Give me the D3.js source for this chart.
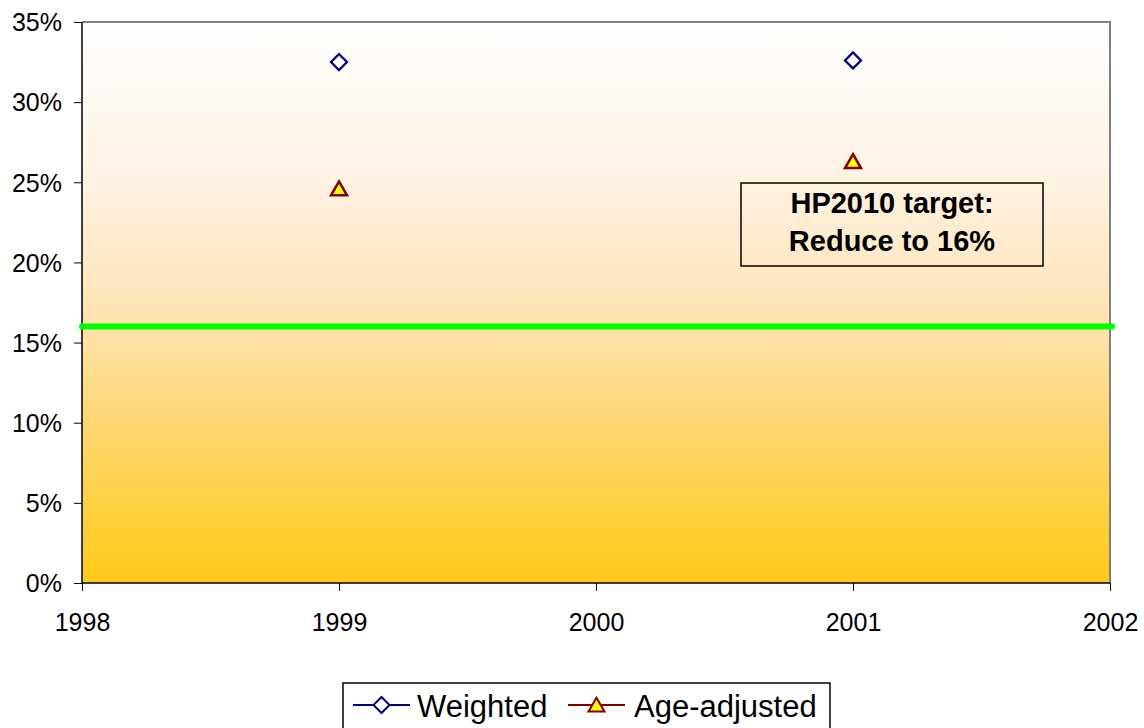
<!DOCTYPE html>
<html><head><meta charset="utf-8">
<script src="https://cdn.jsdelivr.net/npm/d3@7"></script>
<style>body{margin:0;background:#fff;}svg{display:block;font-family:"Liberation Sans",Arial,sans-serif;}</style>
</head><body>
<svg id="c" width="1144" height="728"></svg>
<script>
const years = [1999, 2001];
const weighted = [0.325, 0.326];
const ageAdjusted = [0.246, 0.263];
const target = 0.16;
const xTicks = [1998, 1999, 2000, 2001, 2002];
const yTicks = [0, 0.05, 0.10, 0.15, 0.20, 0.25, 0.30, 0.35];
const seriesNames = ["Weighted", "Age-adjusted"];
const annotation = ["HP2010 target:", "Reduce to 16%"];

const svg = d3.select("#c");
const L = 82, R = 1110, T = 22, B = 583;
const x = d3.scaleLinear().domain([1998, 2002]).range([L, R]);
const y = d3.scaleLinear().domain([0, 0.35]).range([B, T]);

const defs = svg.append("defs");
const g = defs.append("linearGradient").attr("id","bg").attr("x1",0).attr("y1",0).attr("x2",0).attr("y2",1);
[[0,"#FFFFFF"],[0.25,"#FEF4E7"],[0.48,"#FEE6BE"],[0.7,"#FED878"],[0.87,"#FFD03F"],[1,"#FFCA18"]]
  .forEach(([o,c])=>g.append("stop").attr("offset",o).attr("stop-color",c));

svg.append("rect").attr("x",L).attr("y",T).attr("width",R-L).attr("height",B-T).attr("fill","url(#bg)");
svg.append("path").attr("d",`M${L},${T}H${R}V${B}`).attr("fill","none").attr("stroke","#808080").attr("stroke-width",2);

const yAxis = d3.axisLeft(y).tickValues(yTicks).tickFormat(d3.format(".0%")).tickSize(8).tickPadding(12);
const ya = svg.append("g").attr("transform",`translate(${L},0)`).call(yAxis);
const xAxis = d3.axisBottom(x).tickValues(xTicks).tickFormat(d3.format("d")).tickSize(8).tickPadding(22);
const xa = svg.append("g").attr("transform",`translate(0,${B})`).call(xAxis);
[ya,xa].forEach(a=>{
  a.attr("font-size",null).attr("font-family",null);
  a.select(".domain").attr("stroke","#000").attr("stroke-width",1.5);
  a.selectAll(".tick line").attr("stroke","#000");
  a.selectAll("text").style("font-size","25px").attr("fill","#000").style("font-family","Liberation Sans, Arial, sans-serif");
});
ya.selectAll("text").attr("dy","0.35em");
ya.select(".domain").attr("d",`M0,${T}V${B}`);
xa.select(".domain").attr("d",`M${L},0H${R}`);

svg.append("line").attr("x1",L).attr("x2",R+2).attr("y1",y(target)).attr("y2",y(target))
  .attr("stroke","#00FF00").attr("stroke-width",6).attr("stroke-linecap","round");

const diamond = d3.symbol().type(d3.symbolSquare).size(128);
const tri = d3.symbol().type(d3.symbolTriangle).size(111);
svg.selectAll(".w").data(years).join("path").attr("class","w")
  .attr("d",diamond()).attr("transform",(d,i)=>`translate(${x(d)},${y(weighted[i])}) rotate(45)`)
  .attr("fill","#fff").attr("stroke","#000080").attr("stroke-width",2.3);
svg.selectAll(".a").data(years).join("path").attr("class","a")
  .attr("d",tri()).attr("transform",(d,i)=>`translate(${x(d)},${y(ageAdjusted[i])+2})`)
  .attr("fill","#FFFF00").attr("stroke","#800000").attr("stroke-width",2.5).attr("stroke-linejoin","miter");

const ann = svg.append("g");
ann.append("rect").attr("x",741).attr("y",183).attr("width",302).attr("height",83)
  .attr("fill","none").attr("stroke","#000").attr("stroke-width",1.5);
ann.selectAll("text").data(annotation).join("text")
  .attr("x",892).attr("y",(d,i)=>213+i*38).attr("text-anchor","middle")
  .style("font-size","29px").attr("font-weight","bold").attr("fill","#000").text(d=>d);

const lg = svg.append("g");
lg.append("rect").attr("x",343).attr("y",683).attr("width",487).attr("height",50)
  .attr("fill","#fff").attr("stroke","#000").attr("stroke-width",1.5);
const ly = 705;
const items = [
  {x0:353, name:seriesNames[0], color:"#000080", sym:diamond, rot:45, fill:"#fff", tx:417, dy:0},
  {x0:568, name:seriesNames[1], color:"#800000", sym:tri, rot:0, fill:"#FFFF00", tx:634, dy:2}
];
items.forEach(it=>{
  lg.append("line").attr("x1",it.x0).attr("x2",it.x0+57).attr("y1",ly).attr("y2",ly)
    .attr("stroke",it.color).attr("stroke-width",2);
  lg.append("path").attr("d",it.sym()).attr("transform",`translate(${it.x0+28.5},${ly+it.dy}) rotate(${it.rot})`)
    .attr("fill",it.fill).attr("stroke",it.color).attr("stroke-width",2);
  lg.append("text").attr("x",it.tx).attr("y",ly+12).style("font-size","31px").attr("fill","#000").text(it.name);
});
</script>
</body></html>
